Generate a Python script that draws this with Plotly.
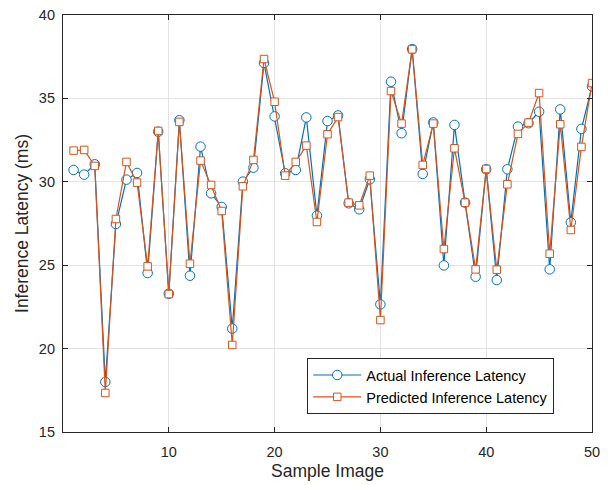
import plotly.graph_objects as go

# Sample indices and measured/predicted inference latency (ms)
samples = list(range(1, 51))

actual_latency = [
    30.71, 30.43, 31.05, 18.00, 27.47, 30.13, 30.53, 24.53, 33.00, 23.29,
    33.69, 24.37, 32.11, 29.31, 28.49, 21.20, 30.01, 30.85, 37.12, 33.92,
    30.51, 30.71, 33.86, 27.97, 33.64, 33.98, 28.71, 28.35, 30.15, 22.65,
    36.00, 32.91, 37.96, 30.47, 33.56, 24.99, 33.41, 28.75, 24.31, 30.75,
    24.11, 30.75, 33.31, 33.51, 34.20, 24.75, 34.34, 27.57, 33.17, 35.72,
]

predicted_latency = [
    31.87, 31.91, 30.95, 17.34, 27.77, 31.19, 29.95, 24.93, 33.05, 23.27,
    33.59, 25.09, 31.27, 29.81, 28.25, 20.22, 29.73, 31.31, 37.36, 34.80,
    30.37, 31.19, 32.17, 27.59, 32.85, 33.88, 28.75, 28.59, 30.37, 21.71,
    35.44, 33.49, 37.94, 31.01, 33.49, 25.97, 32.01, 28.75, 24.75, 30.77,
    24.73, 29.85, 32.87, 33.55, 35.32, 25.69, 33.45, 27.11, 32.09, 35.92,
]

x_ticks = [10, 20, 30, 40, 50]
y_ticks = [15, 20, 25, 30, 35, 40]

BLUE = "#0072BD"
ORANGE = "#D95319"
AXIS = "#262626"
GRID = "#e3e3e3"
FONT = "Liberation Sans, Arial, Helvetica, sans-serif"

fig = go.Figure()

fig.add_trace(go.Scatter(
    x=samples, y=actual_latency,
    mode="lines+markers",
    name="Actual Inference Latency",
    line=dict(color=BLUE, width=1.2),
    marker=dict(symbol="circle", size=9.5, color="white",
                line=dict(color=BLUE, width=1)),
))

fig.add_trace(go.Scatter(
    x=samples, y=predicted_latency,
    mode="lines+markers",
    name="Predicted Inference Latency",
    line=dict(color=ORANGE, width=1.2),
    marker=dict(symbol="square", size=7.5, color="white",
                line=dict(color=ORANGE, width=1)),
))

axis_common = dict(
    showline=True, linecolor=AXIS, linewidth=1.2, mirror="ticks",
    ticks="inside", ticklen=5, tickcolor=AXIS, tickwidth=1,
    showgrid=True, gridcolor=GRID, gridwidth=1,
    zeroline=False, automargin=False,
    tickfont=dict(family=FONT, size=14.5, color=AXIS),
)

fig.update_xaxes(
    range=[0, 50], tickvals=x_ticks,
    title=dict(text="Sample Image", font=dict(family=FONT, size=17.5, color=AXIS),
               standoff=6),
    ticklabelstandoff=6,
    **axis_common,
)

fig.update_yaxes(
    range=[15, 40], tickvals=y_ticks,
    title=dict(text="Inference Latency (ms)", font=dict(family=FONT, size=17.5, color=AXIS),
               standoff=5),
    ticklabelstandoff=4,
    **axis_common,
)

fig.update_layout(
    width=608, height=485,
    margin=dict(l=63, r=16, t=15, b=53),
    paper_bgcolor="white", plot_bgcolor="white",
    font=dict(family=FONT, color=AXIS),
    showlegend=True,
    legend=dict(
        x=0.9286, y=0.043, xanchor="right", yanchor="bottom",
        bgcolor="white", bordercolor=AXIS, borderwidth=1,
        font=dict(family=FONT, size=14.5, color="#000000"),
        itemwidth=48, tracegroupgap=0,
    ),
)

fig.write_html("out.html")
